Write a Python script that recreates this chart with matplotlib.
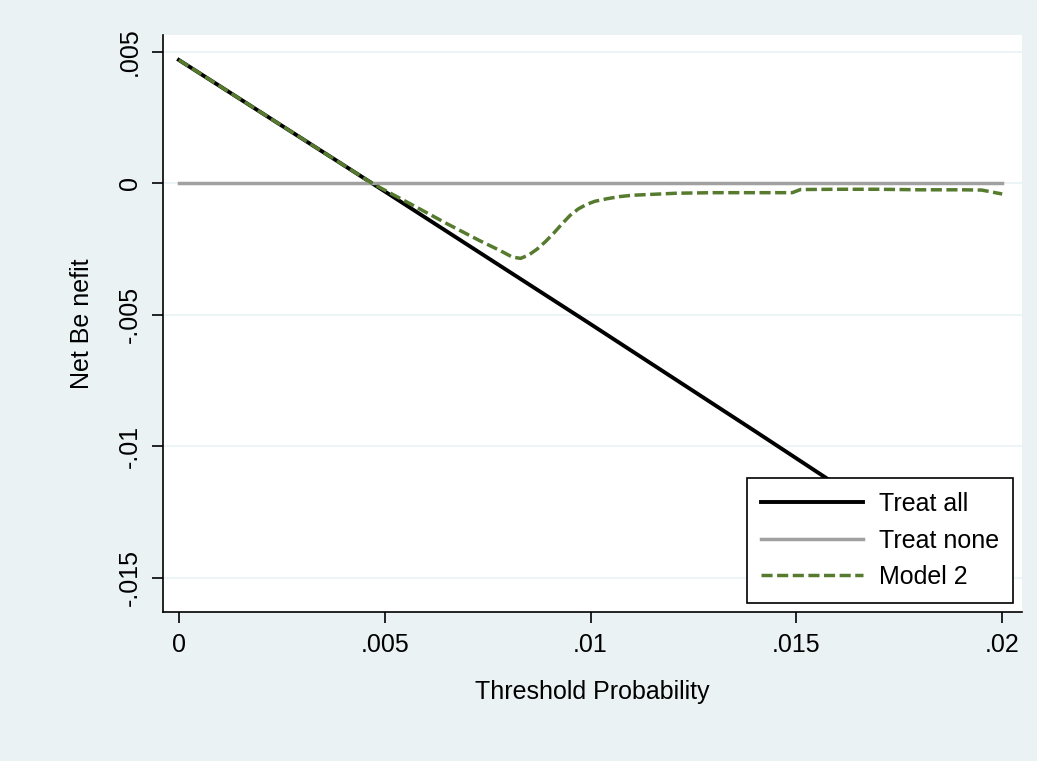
import matplotlib
matplotlib.use('Agg')
import matplotlib.pyplot as plt

plt.rcParams['font.family'] = ['Liberation Sans', 'DejaVu Sans']

# threshold probabilities and net benefit values
pt_all = [0.0, 0.001, 0.002, 0.003, 0.004, 0.005, 0.006, 0.007, 0.008, 0.009,
          0.010, 0.011, 0.012, 0.013, 0.014, 0.015, 0.016, 0.017, 0.018, 0.019, 0.020]
nb_all = [0.0047, 0.0037, 0.0027, 0.0017, 0.0007, -0.0003, -0.00131, -0.00232, -0.00333, -0.00434,
          -0.00535, -0.00637, -0.00739, -0.00841, -0.00943, -0.01046, -0.01149, -0.01252, -0.01355, -0.01458, -0.01561]

pt_none = [0.0, 0.020]
nb_none = [0.0, 0.0]

pt_model = [0.0, 0.001, 0.002, 0.003, 0.004, 0.0047, 0.0057, 0.0065, 0.0073, 0.0078, 0.0081,
            0.0083, 0.0085, 0.0087, 0.0089, 0.0091, 0.0093, 0.0095, 0.0097, 0.0099, 0.0101,
            0.0104, 0.0107, 0.0110, 0.0114, 0.0121, 0.013, 0.014, 0.0149, 0.0151, 0.016,
            0.017, 0.018, 0.019, 0.0195, 0.020]
nb_model = [0.0047, 0.0037, 0.0027, 0.0017, 0.0007, 0.0, -0.00084, -0.00152, -0.00217, -0.00255, -0.00280,
            -0.00285, -0.00272, -0.00250, -0.00222, -0.00190, -0.00155, -0.00122, -0.00097, -0.00080, -0.00068,
            -0.00058, -0.00050, -0.00045, -0.00042, -0.00037, -0.00035, -0.00035, -0.00035, -0.00023, -0.00022,
            -0.00022, -0.00024, -0.00024, -0.00025, -0.0004]

xticks = [0, 0.005, 0.01, 0.015, 0.02]
xticklabels = ['0', '.005', '.01', '.015', '.02']
yticks = [0.005, 0, -0.005, -0.01, -0.015]
yticklabels = ['.005', '0', '-.005', '-.01', '-.015']

bg = '#EAF2F3'

fig = plt.figure(figsize=(10.37, 7.61), dpi=100, facecolor=bg)
ax = fig.add_axes([0.157, 0.196, 0.8285, 0.758])
ax.set_facecolor('white')

ax.plot(pt_all, nb_all, color='black', lw=2.8, label='Treat all', zorder=3)
ax.plot(pt_none, nb_none, color='#A0A0A0', lw=2.5, label='Treat none', zorder=3)
ax.plot(pt_model, nb_model, color='#567B2F', lw=2.5, ls=(0, (3.2, 1.3)), label='Model 2', zorder=4)

ax.set_xlim(-0.00039, 0.02048)
ax.set_ylim(-0.0163, 0.00565)

ax.set_yticks(yticks)
ax.set_yticklabels(yticklabels, rotation=90, va='center')
ax.set_xticks(xticks)
ax.set_xticklabels(xticklabels)
ax.grid(axis='y', color=bg, lw=1.2, zorder=0)
ax.tick_params(length=8, width=1.2, labelsize=18, pad=7)

for s in ['top', 'right']:
    ax.spines[s].set_visible(False)
for s in ['left', 'bottom']:
    ax.spines[s].set_linewidth(1.2)

ax.set_xlabel('Threshold Probability', fontsize=18, labelpad=17)
ax.set_ylabel('Net Be nefit', fontsize=18, labelpad=17)

leg = ax.legend(loc='lower right', bbox_to_anchor=(0.9895, 0.0156), fontsize=18,
                handlelength=4.1, handletextpad=0.64, borderpad=0.55, labelspacing=0.5,
                borderaxespad=0, fancybox=False, framealpha=1, edgecolor='black')
leg.get_frame().set_linewidth(1.2)
leg.set_zorder(10)

fig.savefig('out.png', dpi=100, facecolor=bg)
